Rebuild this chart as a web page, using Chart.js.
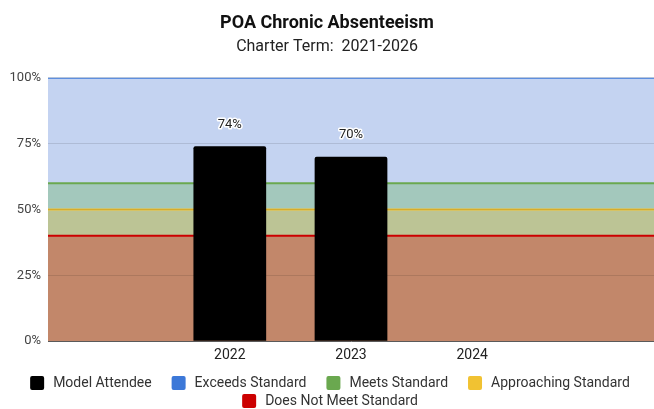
<!DOCTYPE html>
<html>
<head>
<meta charset="utf-8">
<script src="https://cdn.jsdelivr.net/npm/chart.js@4/dist/chart.umd.min.js"></script>
<style>
html,body{margin:0;padding:0;background:#fff;}
#wrap{width:654px;height:409px;}
</style>
</head>
<body>
<div id="wrap"><canvas id="c" width="654" height="409"></canvas></div>
<script>
const categories = ["", "2022", "2023", "2024", ""];
const modelAttendee = [null, 74, 70, null, null];
const exceedsStandard = [100, 100, 100, 100, 100];
const meetsStandard = [60, 60, 60, 60, 60];
const approachingStandard = [50, 50, 50, 50, 50];
const doesNotMeetStandard = [40, 40, 40, 40, 40];
const yTicks = [0, 25, 50, 75, 100];

const labelPlugin = {
  id: 'barLabels',
  afterDraw(chart) {
    const ctx = chart.ctx;
    const meta = chart.getDatasetMeta(0);
    ctx.save();
    ctx.font = '13px Roboto';
    ctx.textAlign = 'center';
    ctx.textBaseline = 'middle';
    ctx.lineJoin = 'round';
    meta.data.forEach((el, i) => {
      const v = modelAttendee[i];
      if (v == null) return;
      const t = v + '%';
      const y = el.y - 22;
      ctx.strokeStyle = '#fff';
      ctx.lineWidth = 3;
      ctx.strokeText(t, el.x, y);
      ctx.fillStyle = '#222';
      ctx.fillText(t, el.x, y);
    });
    ctx.restore();
  }
};

// Legend drawn on the canvas from the chart's datasets (wider item gaps than the built-in legend allows)
const legendPlugin = {
  id: 'customLegend',
  afterDraw(chart) {
    const ctx = chart.ctx;
    const W = chart.width, H = chart.height;
    const box = 14, gapText = 9, gapItem = 20;
    ctx.save();
    ctx.font = '14px Roboto';
    ctx.textBaseline = 'middle';
    ctx.textAlign = 'left';
    const items = chart.data.datasets.map(ds => ({
      text: ds.label,
      color: ds.type === 'bar' ? ds.backgroundColor : ds.borderColor,
      w: box + gapText + ctx.measureText(ds.label).width
    }));
    const rows = [[]];
    let rw = 0;
    items.forEach(it => {
      const add = (rows[rows.length - 1].length ? gapItem : 0) + it.w;
      if (rows[rows.length - 1].length && rw + add > W - 20) {
        rows.push([it]); rw = it.w;
      } else { rows[rows.length - 1].push(it); rw += add; }
    });
    const rowH = 18;
    let cy = H - 8 - (rows.length - 1) * rowH;
    rows.forEach(row => {
      const total = row.reduce((s, it, i) => s + it.w + (i ? gapItem : 0), 0);
      let x = (W - total) / 2 + 3;
      row.forEach(it => {
        ctx.fillStyle = it.color;
        ctx.beginPath();
        ctx.roundRect(x, cy - box / 2, box, box, 2);
        ctx.fill();
        ctx.fillStyle = '#333';
        ctx.fillText(it.text, x + box + gapText, cy + 0.5);
        x += it.w + gapItem;
      });
      cy += rowH;
    });
    ctx.restore();
  }
};

const lineDs = (label, data, color, fillColor, fill, order) => ({
  type: 'line', label, data, xAxisID: 'x2',
  borderColor: color, backgroundColor: fillColor, borderWidth: 2,
  pointRadius: 0, fill, order, tension: 0
});

new Chart(document.getElementById('c'), {
  type: 'bar',
  data: {
    labels: categories,
    datasets: [
      { type: 'bar', label: 'Model Attendee', data: modelAttendee, backgroundColor: '#000', borderColor: '#000',
        grouped: false, barPercentage: 0.75, categoryPercentage: 0.8, borderRadius: 2, borderSkipped: 'bottom', order: 0 },
      lineDs('Exceeds Standard', exceedsStandard, '#3c78d8', '#c4d3f1', '+1', 1),
      lineDs('Meets Standard', meetsStandard, '#6aa84f', '#a3c8bc', '+1', 2),
      lineDs('Approaching Standard', approachingStandard, '#f1c232', '#bcc495', '+1', 3),
      lineDs('Does Not Meet Standard', doesNotMeetStandard, '#cc0000', '#c2876a', 'origin', 4)
    ]
  },
  options: {
    responsive: false,
    animation: false,
    layout: { padding: { left: 0, right: 0, top: 13, bottom: 47 } },
    plugins: {
      filler: { drawTime: 'beforeDatasetsDraw' },
      tooltip: { enabled: false },
      legend: { display: false },
      title: { display: true, text: 'POA Chronic Absenteeism', color: '#111',
        font: { family: 'Roboto', size: 18, weight: 'bold' }, padding: { top: 0, bottom: 3 } },
      subtitle: { display: true, text: 'Charter Term:  2021-2026', color: '#222',
        font: { family: 'Roboto', size: 16 }, padding: { top: 0, bottom: 21 } }
    },
    scales: {
      x: {
        type: 'category', offset: true,
        grid: { display: false },
        border: { display: true, color: '#666', width: 1 },
        ticks: { color: '#222', font: { family: 'Roboto', size: 14 }, padding: -2 }
      },
      x2: {
        type: 'category', labels: categories, offset: false, display: false
      },
      y: {
        min: 0, max: 100,
        afterFit(s) { s.width = 48; },
        afterBuildTicks(s) { s.ticks = yTicks.map(v => ({ value: v })); },
        border: { display: false },
        grid: { color: 'rgba(0,0,0,0.11)', z: 1, drawTicks: false },
        ticks: { color: '#444', font: { family: 'Roboto', size: 13 }, padding: 7,
          callback: v => v + '%' }
      }
    }
  },
  plugins: [labelPlugin, legendPlugin]
});
</script>
</body>
</html>
